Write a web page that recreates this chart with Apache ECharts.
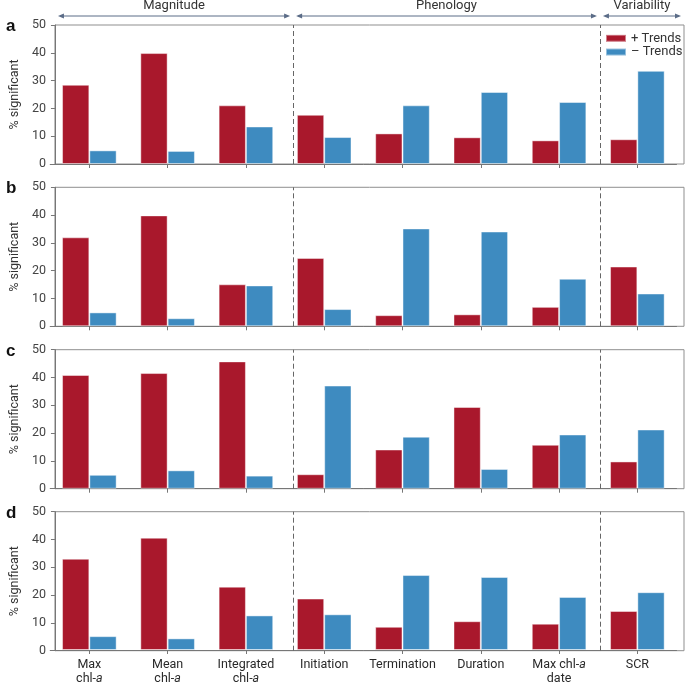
<!DOCTYPE html>
<html><head><meta charset="utf-8">
<script src="https://cdn.jsdelivr.net/npm/echarts@6/dist/echarts.min.js"></script>
<style>html,body{margin:0;padding:0;background:#fff}#c{width:685px;height:686px}</style>
</head><body><div id="c"></div>
<script>
// ---------- data ----------
const categories = ['Max\nchl-a', 'Mean\nchl-a', 'Integrated\nchl-a', 'Initiation', 'Termination', 'Duration', 'Max chl-a\ndate', 'SCR'];
const groupLabels = ['Magnitude', 'Phenology', 'Variability'];
const groupSizes = [3, 4, 1];
const panelLetters = ['a', 'b', 'c', 'd'];
const seriesNames = ['+ Trends', '\u2013 Trends'];
const yTicks = [0, 10, 20, 30, 40, 50];

const plusA  = [28.5, 39.9, 21.1, 17.7, 11.0, 9.6, 8.5, 8.9];
const minusA = [4.9, 4.7, 13.5, 9.7, 21.1, 25.9, 22.3, 33.5];
const plusB  = [32.0, 39.9, 15.1, 24.6, 4.0, 4.3, 7.0, 21.5];
const minusB = [5.0, 2.9, 14.7, 6.2, 35.2, 34.1, 17.1, 11.8];
const plusC  = [40.9, 41.6, 45.8, 5.2, 14.1, 29.4, 15.8, 9.8];
const minusC = [5.0, 6.6, 4.7, 37.1, 18.7, 7.1, 19.5, 21.3];
const plusD  = [33.0, 40.6, 22.9, 18.6, 8.4, 10.4, 9.5, 14.1];
const minusD = [5.0, 4.2, 12.5, 12.9, 27.1, 26.4, 19.2, 20.9];
const panels = [[plusA, minusA], [plusB, minusB], [plusC, minusC], [plusD, minusD]];

// ---------- layout / style ----------
const W = 685;
const RED = '#a9182c', BLUE = '#3e8bc0';
const FONT = 'Roboto, "Noto Sans", sans-serif';
const tops = [25, 187.3, 349.7, 511.7];
const H = 139;
const outerL = 42, outerR = 1;
const innerL = 50.2, innerR = 8.5;
const band = (W - innerL - innerR) / categories.length;
const xMin = -0.5 - (innerL - outerL) / band;
const xMax = categories.length - 0.5 + (innerR - outerR) / band;
const breaks = [];
{ let acc = 0; for (let i = 0; i < groupSizes.length - 1; i++) { acc += groupSizes[i]; breaks.push(acc - 0.5); } }

const grid = [], xAxis = [], yAxis = [], series = [], title = [];
panels.forEach((pd, i) => {
  const top = tops[i];
  grid.push({ left: outerL, right: outerR, top: top, height: H, show: true, borderColor: '#8f8f8f', borderWidth: 1, backgroundColor: 'transparent' });
  grid.push({ left: innerL, right: innerR, top: top, height: H });
  xAxis.push({ type: 'value', gridIndex: 2 * i, min: xMin, max: xMax, show: false });
  xAxis.push({
    type: 'category', gridIndex: 2 * i + 1, data: categories,
    axisLine: { show: true, lineStyle: { color: '#777' } },
    axisTick: { show: true, alignWithLabel: true, length: 4, lineStyle: { color: '#777' } },
    axisLabel: {
      show: i === panels.length - 1, interval: 0, margin: 8, color: '#2a2a2a', fontSize: 12.5, fontFamily: FONT, lineHeight: 14,
      formatter: v => v.replace('chl-a', 'chl-{i|a}'),
      rich: { i: { fontStyle: 'italic', fontSize: 12.5, fontFamily: FONT, color: '#2a2a2a' } }
    }
  });
  yAxis.push({
    type: 'value', gridIndex: 2 * i, min: yTicks[0], max: yTicks[yTicks.length - 1], interval: yTicks[1] - yTicks[0],
    name: '% significant', nameLocation: 'middle', nameGap: 30,
    nameTextStyle: { fontSize: 12.5, color: '#333', fontFamily: FONT },
    axisLine: { show: true, onZero: false, lineStyle: { color: '#777' } },
    axisTick: { show: true, length: 4, lineStyle: { color: '#777' } },
    splitLine: { show: false },
    axisLabel: { color: '#444', fontSize: 12.5, margin: 9, fontFamily: FONT }
  });
  yAxis.push({ type: 'value', gridIndex: 2 * i + 1, min: yTicks[0], max: yTicks[yTicks.length - 1], show: false, splitLine: { show: false } });
  [RED, BLUE].forEach((col, k) => {
    series.push({
      type: 'bar', name: seriesNames[k], xAxisIndex: 2 * i + 1, yAxisIndex: 2 * i + 1,
      data: pd[k], barWidth: 27.3, barGap: '0%',
      itemStyle: { color: col, borderColor: 'rgba(255,255,255,0.45)', borderWidth: 1 },
      emphasis: { disabled: true }
    });
  });
  series.push({
    type: 'line', xAxisIndex: 2 * i, yAxisIndex: 2 * i, data: [], silent: true,
    markLine: {
      silent: true, symbol: 'none', label: { show: false },
      lineStyle: { color: '#666', width: 1, type: [5, 3] },
      data: breaks.map(b => ({ xAxis: b }))
    }
  });
  title.push({ text: panelLetters[i], left: 1, top: top - 12, textStyle: { fontSize: 17, fontWeight: 'bold', color: '#111', fontFamily: 'Arial, "Liberation Sans", sans-serif' } });
});

const chart = echarts.init(document.getElementById('c'), null, { renderer: 'canvas' });
chart.setOption({
  animation: false,
  backgroundColor: '#fff',
  title: title,
  legend: {
    data: seriesNames, orient: 'vertical', left: 605, top: 31.5, padding: 0,
    itemWidth: 20, itemHeight: 7, itemGap: 0, icon: 'rect', selectedMode: false,
    textStyle: { fontSize: 13, lineHeight: 13.7, color: '#333', fontFamily: FONT }
  },
  grid: grid, xAxis: xAxis, yAxis: yAxis, series: series
});

// header arrows computed from the axis scale
const px = v => chart.convertToPixel({ xAxisIndex: 0 }, v);
const edges = [xMin].concat(breaks, [xMax]).map(px);
const ARROW = '#5b6c87';
const arrowY = 16;
const graphics = [];
groupLabels.forEach((lab, g) => {
  const x1 = edges[g] + 3, x2 = edges[g + 1] - 3;
  graphics.push({ type: 'line', shape: { x1: x1 + 2, y1: arrowY, x2: x2 - 2, y2: arrowY }, style: { stroke: ARROW, lineWidth: 1 }, silent: true });
  graphics.push({ type: 'polygon', shape: { points: [[x1, arrowY], [x1 + 6, arrowY - 2.5], [x1 + 6, arrowY + 2.5]] }, style: { fill: ARROW }, silent: true });
  graphics.push({ type: 'polygon', shape: { points: [[x2, arrowY], [x2 - 6, arrowY - 2.5], [x2 - 6, arrowY + 2.5]] }, style: { fill: ARROW }, silent: true });
  graphics.push({ type: 'text', x: (x1 + x2) / 2, y: 6, style: { text: lab, fill: '#333', font: '13px ' + FONT, textAlign: 'center', textVerticalAlign: 'middle' }, silent: true });
});
chart.setOption({ graphic: graphics });
</script></body></html>
